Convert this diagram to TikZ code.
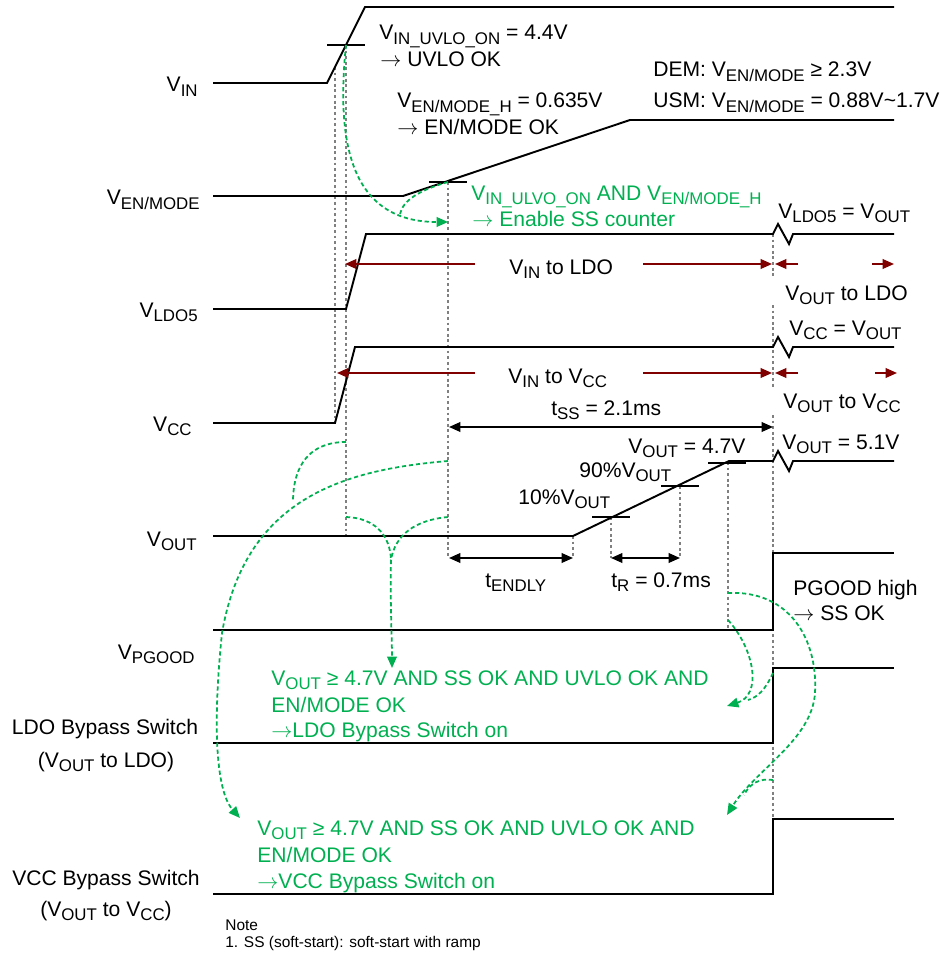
\documentclass[tikz,border=0pt]{standalone}
\usepackage{fontspec}
\setmainfont{Liberation Sans}
\usetikzlibrary{arrows.meta}
\definecolor{okgreen}{RGB}{0,176,80}
\definecolor{pathred}{RGB}{128,0,0}
\newcommand{\sbs}[1]{\raisebox{-2.3pt}{\fontsize{9.6}{10}\selectfont #1}}
\newcommand{\arr}{\ensuremath{\rightarrow}}

\begin{document}
\begin{tikzpicture}[x=0.02cm, y=-0.02cm,
    >={Triangle[length=6.5pt,width=5.5pt]},
    sig/.style={line width=1.1pt},
    thr/.style={line width=1pt},
    guide/.style={draw=gray, line width=0.7pt, dash pattern=on 1.6pt off 1.6pt},
    cause/.style={draw=okgreen, line width=1pt, dash pattern=on 2.4pt off 1.6pt},
    flow/.style={draw=pathred, line width=1pt, ->},
    span/.style={line width=1pt, <->},
    lbl/.style={inner sep=0pt, anchor=base west, font=\fontsize{12}{14}\selectfont},
    sidelbl/.style={lbl, anchor=base east},
    swlbl/.style={lbl, anchor=base},
    glbl/.style={lbl, text=okgreen},
    notelbl/.style={inner sep=0pt, anchor=base west, font=\fontsize{8.8}{10}\selectfont}]
    \useasboundingbox (0,0) rectangle (946,956);

    % --- key points ---
    \coordinate (uvlo) at (346,45);
    \coordinate (enh) at (448,182);
    \coordinate (ssend) at (773,427);

    % --- guide lines (grey, dotted) ---
    \draw[guide] (335,67) -- (335,423);
    \draw[guide] (uvlo) -- (346,536);
    \draw[guide] (enh) -- (448,558);
    \draw[guide] (573,536) -- (573,558);
    \draw[guide] (611,517) -- (611,558);
    \draw[guide] (680,486) -- (680,558);
    \draw[guide] (728,462) -- (728,628);
    \draw[guide] (773,234) -- (773,277) (773,305) -- (773,387) (773,415) -- (773,819);

    % --- signal labels on the left ---
    \node[sidelbl] (vin) at (198,92) {V\sbs{IN}};
    \node[sidelbl] (ven) at (200,205) {V\sbs{EN/MODE}};
    \node[sidelbl] (vldo) at (198,317) {V\sbs{LDO5}};
    \node[sidelbl] (vcc) at (192,431) {V\sbs{CC}};
    \node[sidelbl] (vout) at (197,546) {V\sbs{OUT}};
    \node[sidelbl] (vpg) at (195,659) {V\sbs{PGOOD}};
    \node[swlbl] (ldosw) at (105,734) {LDO Bypass Switch};
    \node[swlbl] (ldosw2) at (106,767) {(V\sbs{OUT} to LDO)};
    \node[swlbl] (vccsw) at (106,885) {VCC Bypass Switch};
    \node[swlbl] (vccsw2) at (106,916) {(V\sbs{OUT} to V\sbs{CC})};

    % --- V_IN ---
    \draw[sig] (213,83) -- (327,83) -- (365,7) -- (894,7);
    \draw[thr] (327,45) -- (365,45);
    % --- V_EN/MODE ---
    \draw[sig] (213,196) -- (403,196) -- (630,120) -- (894,120);
    \draw[thr] (429,182) -- (467,182);
    % --- V_LDO5 ---
    \draw[sig] (213,309) -- (346,309) -- (366,234) -- (773,234) -- (778,224)
        -- (789,244) -- (793,234) -- (894,234);
    % --- V_CC ---
    \draw[sig] (213,423) -- (335,423) -- (355,347) -- (773,347) -- (778,337)
        -- (789,357) -- (793,347) -- (894,347);
    % --- V_OUT ---
    \draw[sig] (213,536) -- (573,536) -- (729,461) -- (773,461) -- (778,451)
        -- (789,471) -- (793,461) -- (894,461);
    \draw[thr] (592,517) -- (630,517);
    \draw[thr] (661,486) -- (699,486);
    \draw[thr] (708,463) -- (746,463);
    % --- V_PGOOD and bypass switches ---
    \draw[sig] (213,630) -- (773,630) -- (773,553) -- (894,553);
    \draw[sig] (213,743) -- (773,743) -- (773,668) -- (894,668);
    \draw[sig] (213,894) -- (773,894) -- (773,819) -- (894,819);

    % --- supply paths (dark red) ---
    \draw[flow] (475,264) -- (345,264);
    \draw[flow] (643,264) -- (772,264);
    \draw[flow] (798,264) -- (775,264);
    \draw[flow] (872,264) -- (894,264);
    \draw[flow] (475,373) -- (337,373);
    \draw[flow] (643,373) -- (772,373);
    \draw[flow] (798,373) -- (775,373);
    \draw[flow] (875,373) -- (897,373);

    % --- timing spans ---
    \draw[span] (449,427) -- (ssend);
    \draw[span] (449,558) -- (573,558);
    \draw[span] (611,558) -- (680,558);

    % --- black annotations ---
    \node[lbl] (uvlotxt) at (379,40) {V\sbs{IN\_UVLO\_ON} = 4.4V};
    \node[lbl] (uvlook) at (380,67) {\arr{} UVLO OK};
    \node[lbl] (enhtxt) at (397,108) {V\sbs{EN/MODE\_H} = 0.635V};
    \node[lbl] (enok) at (397,135) {\arr{} EN/MODE OK};
    \node[lbl] (dem) at (653,77) {DEM: V\sbs{EN/MODE} ≥ 2.3V};
    \node[lbl] (usm) at (653,108) {USM: V\sbs{EN/MODE} = 0.88V\textasciitilde1.7V};
    \node[lbl] (ldoeq) at (778,218) {V\sbs{LDO5} = V\sbs{OUT}};
    \node[lbl] (vinldo) at (509,274) {V\sbs{IN} to LDO};
    \node[lbl] (voutldo) at (785,300) {V\sbs{OUT} to LDO};
    \node[lbl] (vcceq) at (789,335) {V\sbs{CC} = V\sbs{OUT}};
    \node[lbl] (vinvcc) at (508,383) {V\sbs{IN} to V\sbs{CC}};
    \node[lbl] (voutvcc) at (783,408) {V\sbs{OUT} to V\sbs{CC}};
    \node[lbl] (tss) at (551,415) {t\sbs{SS} = 2.1ms};
    \node[lbl] (v51) at (782,449) {V\sbs{OUT} = 5.1V};
    \node[lbl] (v47) at (628,453) {V\sbs{OUT} = 4.7V};
    \node[lbl] (p90) at (579,477) {90\%V\sbs{OUT}};
    \node[lbl] (p10) at (518,504) {10\%V\sbs{OUT}};
    \node[lbl] (tendly) at (485,587) {t\sbs{ENDLY}};
    \node[lbl] (tr) at (611,587) {t\sbs{R} = 0.7ms};
    \node[lbl] (pghigh) at (793,595) {PGOOD high};
    \node[lbl] (ssok) at (793,620) {\arr{} SS OK};

    % --- green conditions ---
    \node[glbl] (sscnt) at (471,200) {V\sbs{IN\_ULVO\_ON} AND V\sbs{EN/MODE\_H}};
    \node[glbl] (sscnt2) at (472,227) {\arr{} Enable SS counter};
    \node[glbl] (ldocond) at (271,685) {V\sbs{OUT} ≥ 4.7V AND SS OK AND UVLO OK AND};
    \node[glbl] (ldocond2) at (271,712) {EN/MODE OK};
    \node[glbl] (ldocond3) at (271,737) {\arr{}LDO Bypass Switch on};
    \node[glbl] (vcccond) at (257,835) {V\sbs{OUT} ≥ 4.7V AND SS OK AND UVLO OK AND};
    \node[glbl] (vcccond2) at (257,862) {EN/MODE OK};
    \node[glbl] (vcccond3) at (257,888) {\arr{}VCC Bypass Switch on};

    % --- green cause arrows ---
    \draw[cause, ->] (uvlo) .. controls (334,160) and (360,222) .. (448,222);
    \draw[cause] (enh) .. controls (420,190) and (403,200) .. (400,214);
    \draw[cause] (346,442) .. controls (310,442) and (293,465) .. (293,502);
    \draw[cause, ->] (448,461) .. controls (340,470) and (245,500) .. (222,633)
        .. controls (213,720) and (215,790) .. (240,818);
    \draw[cause] (346,517) .. controls (375,518) and (390,535) .. (391,560);
    \draw[cause] (448,517) .. controls (415,520) and (395,535) .. (391,560);
    \draw[cause, ->] (391,560) .. controls (390,600) and (392,640) .. (392,668);
    \draw[cause, ->] (728,620) .. controls (755,650) and (762,695) .. (727,706);
    \draw[cause] (773,673) .. controls (765,690) and (758,697) .. (748,700);
    \draw[cause, ->] (728,593) .. controls (790,590) and (818,640) .. (815,693)
        .. controls (812,740) and (755,770) .. (727,815);
    \draw[cause] (773,780) .. controls (760,778) and (750,783) .. (744,795);

    % --- note ---
    \node[notelbl] (note) at (225,930) {Note};
    \node[notelbl] (note1) at (225,947) {1. SS (soft-start): soft-start with ramp};
\end{tikzpicture}
\end{document}
